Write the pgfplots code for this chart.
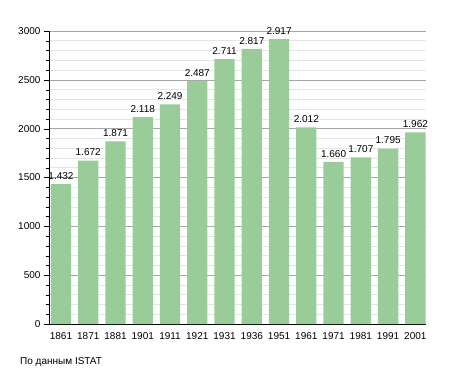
\documentclass[border=0pt]{standalone}
\usepackage{fontspec}
\setmainfont{Liberation Sans}
\usepackage{pgfplots}
\pgfplotsset{compat=1.18}
\definecolor{barg}{HTML}{99CC99}
\begin{document}
\begin{tikzpicture}[x=1pt,y=1pt]
\path[use as bounding box] (0,0) rectangle (455,373);
\begin{axis}[
  at={(49pt,49pt)}, anchor=south west,
  scale only axis, width=377pt, height=293pt,
  xmin=-0.44, xmax=13.39, ymin=0, ymax=3000,
  axis x line*=bottom, axis y line*=left,
  axis line style={black,-},
  ytick={0,500,...,3000}, minor ytick={0,100,...,3000},
  xtick={0,...,13},
  xticklabels={1861,1871,1881,1901,1911,1921,1931,1936,1951,1961,1971,1981,1991,2001},
  x tick style={draw=none},
  y tick style={black},
  tick align=outside,
  major tick length=5pt, minor tick length=3pt,
  ymajorgrids, yminorgrids,
  major grid style={color=black!35, line width=0.6pt},
  minor grid style={color=black!10, line width=0.6pt},
  /pgf/number format/assume math mode=true,
  yticklabel style={/pgf/number format/1000 sep={}, font=\fontsize{10}{12}\selectfont},
  xticklabel style={font=\fontsize{10}{12}\selectfont},
  scaled y ticks=false,
  ybar, bar width=20.3pt,
  nodes near coords,
  nodes near coords style={font=\fontsize{10}{12}\selectfont, /pgf/number format/1000 sep={.}, inner sep=1.5pt, yshift=3pt},
  clip=false,
]
\addplot[fill=barg, draw=none] coordinates {
(0,1432) (1,1672) (2,1871) (3,2118) (4,2249) (5,2487) (6,2711)
(7,2817) (8,2917) (9,2012) (10,1660) (11,1707) (12,1795) (13,1962)};
\end{axis}
\node[anchor=base west, font=\fontsize{10}{12}\selectfont, inner sep=0] at (20,9) {По данным ISTAT};
\end{tikzpicture}
\end{document}
